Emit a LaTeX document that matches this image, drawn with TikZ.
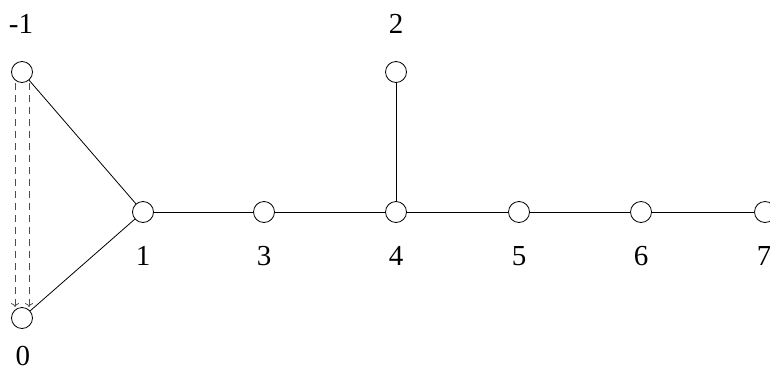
\documentclass[tikz,border=0pt]{standalone}
\usepackage{fontspec}
\setmainfont{Liberation Serif}
\usetikzlibrary{arrows.meta}

\begin{document}
\begin{tikzpicture}[x=1pt, y=-1pt,
      line width=0.8pt,
      vertex/.style={draw, circle, inner sep=0pt, minimum size=21pt},
      lab/.style={inner sep=0pt, anchor=base, font=\fontsize{29}{33}\selectfont},
      dashedge/.style={dash pattern=on 7pt off 5pt, gray!60!black,
                       -{To[length=4pt,width=8pt]}}]
    \useasboundingbox (0,0) rectangle (770,367);
    % vertices
    \node[vertex] (vm1) at (22,72) {};
    \node[vertex] (v0) at (22,318) {};
    \node[vertex] (v1) at (143,212) {};
    \node[vertex] (v2) at (396,72) {};
    \node[vertex] (v3) at (264,212) {};
    \node[vertex] (v4) at (396,212) {};
    \node[vertex] (v5) at (519,212) {};
    \node[vertex] (v6) at (641,212) {};
    \node[vertex] (v7) at (765,212) {};
    % labels (baseline positions)
    \node[lab] (tm1) at (21,33) {-1};
    \node[lab] (t2) at (396,33) {2};
    \node[lab] (t0) at (23,365) {0};
    \node[lab] (t1) at (143,265) {1};
    \node[lab] (t3) at (264,265) {3};
    \node[lab] (t4) at (396,265) {4};
    \node[lab] (t5) at (519,265) {5};
    \node[lab] (t6) at (641,265) {6};
    \node[lab] (t7) at (764,265) {7};
    % edges
    \draw (vm1) -- (v1);
    \draw (v1) -- (v0);
    \draw (v1) -- (v3);
    \draw (v3) -- (v4);
    \draw (v4) -- (v2);
    \draw (v4) -- (v5);
    \draw (v5) -- (v6);
    \draw (v6) -- (v7);
    % dashed arcs
    \draw[dashedge] ([xshift=-7pt]vm1.south) -- ([xshift=-7pt]v0.north);
    \draw[dashedge] ([xshift=7pt]vm1.south) -- ([xshift=7pt]v0.north);
\end{tikzpicture}
\end{document}
